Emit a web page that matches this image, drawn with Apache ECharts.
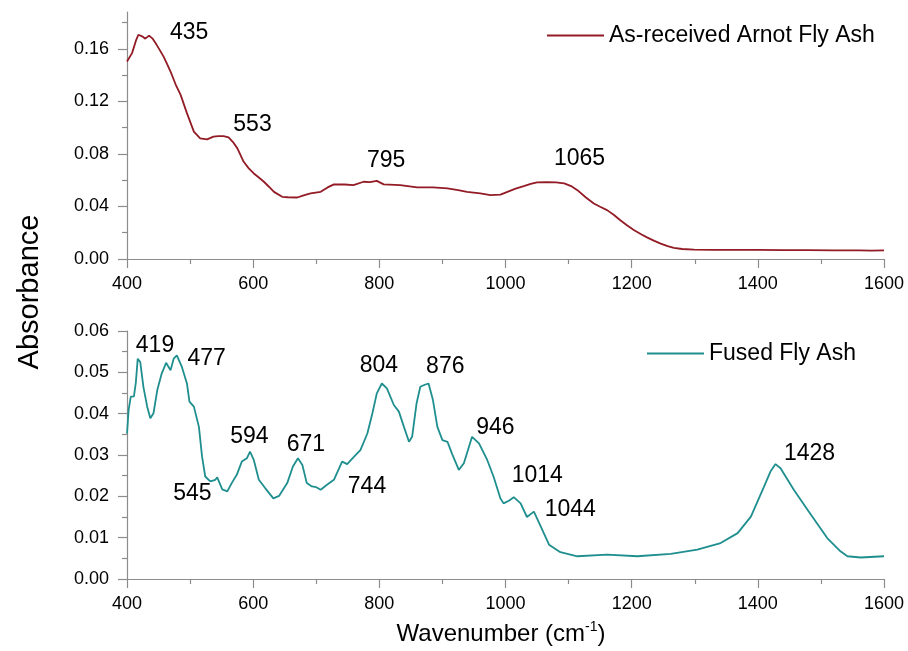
<!DOCTYPE html>
<html>
<head>
<meta charset="utf-8">
<script src="https://cdn.jsdelivr.net/npm/echarts@6/dist/echarts.min.js"></script>
<style>
  html, body { margin: 0; padding: 0; background: #fff; }
  #chart { width: 908px; height: 651px; }
</style>
</head>
<body>
<div id="chart"></div>
<script>
// FTIR absorbance spectra: as-received fly ash (top) and fused fly ash (bottom)
const topWavenumber = [400, 408, 414, 418, 424, 429, 435, 441, 447, 452, 458, 464, 469, 477, 485, 495, 506, 516, 527, 537, 545, 553, 561, 568, 575, 585, 593, 601, 609, 617, 625, 633, 646, 655, 670, 680, 691, 707, 718, 728, 745, 759, 775, 785, 796, 807, 833, 860, 885, 908, 925, 939, 960, 976, 992, 1003, 1016, 1029, 1040, 1050, 1065, 1080, 1093, 1104, 1114, 1127, 1140, 1150, 1161, 1172, 1182, 1193, 1204, 1215, 1225, 1236, 1246, 1257, 1267, 1280, 1299, 1330, 1370, 1400, 1440, 1480, 1520, 1560, 1580, 1600];
const topAbsorbance = [0.1503, 0.1567, 0.166, 0.1707, 0.1695, 0.1677, 0.1700, 0.1675, 0.163, 0.159, 0.154, 0.148, 0.1427, 0.133, 0.1249, 0.111, 0.0969, 0.0918, 0.0911, 0.0931, 0.0936, 0.0936, 0.0926, 0.089, 0.0842, 0.074, 0.069, 0.0651, 0.062, 0.0588, 0.055, 0.0511, 0.0473, 0.0470, 0.0468, 0.0485, 0.0499, 0.0511, 0.0545, 0.0568, 0.0567, 0.0562, 0.0588, 0.0585, 0.0595, 0.0568, 0.0562, 0.0545, 0.0545, 0.0537, 0.0525, 0.0511, 0.0500, 0.0486, 0.0490, 0.0511, 0.0535, 0.0555, 0.0572, 0.0583, 0.0585, 0.0583, 0.0575, 0.0555, 0.0524, 0.0470, 0.0423, 0.0398, 0.0372, 0.0335, 0.0295, 0.0255, 0.0219, 0.0188, 0.0163, 0.0138, 0.0117, 0.0098, 0.0084, 0.0076, 0.0072, 0.0070, 0.0069, 0.0070, 0.0068, 0.0067, 0.0066, 0.0066, 0.0064, 0.0066];

const bottomWavenumber = [400, 402.6, 406, 411, 414, 417, 421, 426, 432, 437, 442, 448, 455, 462, 469, 474, 479, 487, 495, 499, 506, 514, 519, 524, 532, 540, 543, 551, 559, 566, 574, 582, 590, 595, 601, 609, 619, 632, 641, 654, 663, 671, 678, 685, 693, 700, 707, 717, 728, 741, 749, 760, 770, 781, 789, 796, 804, 812, 823, 831, 839, 847, 852, 859, 865, 872, 878, 885, 892, 900, 908, 915, 926, 934, 947, 958, 971, 981, 992, 997, 1006, 1013, 1024, 1034, 1045, 1056, 1069, 1087, 1114, 1161, 1209, 1262, 1304, 1341, 1368, 1389, 1410, 1420, 1428, 1436, 1457, 1479, 1510, 1531, 1542, 1563, 1600];
const bottomAbsorbance = [0.0352, 0.0409, 0.0441, 0.0442, 0.0475, 0.0533, 0.0525, 0.0465, 0.0417, 0.0389, 0.0401, 0.0457, 0.0497, 0.0523, 0.0505, 0.0533, 0.0541, 0.0513, 0.0473, 0.0429, 0.0417, 0.0368, 0.0296, 0.0248, 0.0236, 0.0240, 0.0246, 0.0217, 0.0212, 0.0232, 0.0252, 0.0284, 0.0292, 0.0308, 0.0288, 0.0240, 0.0220, 0.0195, 0.0201, 0.0232, 0.0272, 0.0292, 0.0276, 0.0232, 0.0224, 0.0222, 0.0216, 0.0228, 0.0240, 0.0284, 0.0278, 0.0296, 0.0312, 0.0352, 0.0401, 0.0449, 0.0473, 0.0461, 0.0421, 0.0405, 0.0368, 0.0332, 0.0344, 0.0425, 0.0465, 0.0470, 0.0473, 0.0433, 0.0368, 0.0336, 0.0332, 0.0304, 0.0264, 0.0280, 0.0344, 0.0328, 0.0288, 0.0248, 0.0195, 0.0183, 0.0190, 0.0198, 0.0183, 0.0150, 0.0163, 0.0127, 0.0083, 0.0065, 0.0055, 0.0059, 0.0055, 0.0061, 0.0071, 0.0087, 0.0111, 0.0151, 0.0224, 0.0260, 0.0278, 0.0268, 0.0216, 0.0167, 0.0099, 0.0067, 0.0055, 0.0052, 0.0055];

// Annotated band positions (cm-1)
const topPeaks = [435, 553, 795, 1065];
const bottomPeaks = [419, 477, 545, 594, 671, 744, 804, 876, 946, 1014, 1044, 1428];

// Axis ticks
const xTicks = [400, 600, 800, 1000, 1200, 1400, 1600];
const topYTicks = [0, 0.04, 0.08, 0.12, 0.16];
const topYMinorTicks = [0.02, 0.06, 0.10, 0.14, 0.18];
const bottomYTicks = [0, 0.01, 0.02, 0.03, 0.04, 0.05, 0.06];

const topName = 'As-received Arnot Fly Ash';
const bottomName = 'Fused Fly Ash';

// Pixel offsets of each band label from its point on the curve
const topLabelOffsets = [[40, -3], [29, -11], [10, -20], [33, -23]];
const bottomLabelOffsets = [[16, -15], [31, 2], [-26, 13], [0, -16], [8, -14], [23, 24], [-3, -18], [18, -17], [24, -11], [23, -22], [37, -2], [34, -10]];

const FONT = '"Liberation Sans", Arial, sans-serif';
const AXIS_COLOR = '#8c8c8c';
const TEXT_COLOR = '#000';
const RED = '#921b26';
const TEAL = '#1f8e8e';

function zip(xs, ys) { return xs.map((x, i) => [x, ys[i]]); }

// Linear interpolation of a spectrum at a given wavenumber
function valueAt(xs, ys, x) {
  for (let i = 0; i < xs.length - 1; i++) {
    if (x >= xs[i] && x <= xs[i + 1]) {
      const t = (x - xs[i]) / (xs[i + 1] - xs[i]);
      return ys[i] + t * (ys[i + 1] - ys[i]);
    }
  }
  return ys[ys.length - 1];
}

function peakLabels(peaks, xs, ys, offsets) {
  return peaks.map((p, i) => ({
    value: [p, valueAt(xs, ys, p)],
    label: { offset: offsets[i] }
  }));
}

function xAxis(gridIndex) {
  return {
    type: 'value', gridIndex, min: xTicks[0], max: xTicks[xTicks.length - 1], interval: 200,
    axisLine: { lineStyle: { color: AXIS_COLOR, width: 1.2 } },
    axisTick: { length: 9, lineStyle: { color: AXIS_COLOR, width: 1.2 } },
    minorTick: { show: true, splitNumber: 2, length: 5, lineStyle: { color: AXIS_COLOR, width: 1.2 } },
    splitLine: { show: false },
    axisLabel: { color: TEXT_COLOR, fontSize: 18, fontFamily: FONT, margin: 16, formatter: v => String(v) }
  };
}

const bandLabel = {
  show: true, position: 'inside', fontSize: 23, fontFamily: FONT, color: TEXT_COLOR,
  opacity: 1, textBorderWidth: 0, formatter: p => String(p.value[0])
};

const chart = echarts.init(document.getElementById('chart'), null, { renderer: 'canvas' });

chart.setOption({
  animation: false,
  backgroundColor: '#fff',
  grid: [
    { left: 127, top: 12, width: 757, height: 247 },
    { left: 127, top: 331, width: 757, height: 248 }
  ],
  xAxis: [xAxis(0), xAxis(1)],
  yAxis: [
    {
      type: 'value', gridIndex: 0, min: 0, max: 0.188, position: 'left',
      axisLine: { show: true, lineStyle: { color: AXIS_COLOR, width: 1.2 } },
      axisTick: { show: true, length: 9, customValues: topYTicks, lineStyle: { color: AXIS_COLOR, width: 1.2 } },
      splitLine: { show: false },
      axisLabel: { customValues: topYTicks, color: TEXT_COLOR, fontSize: 18, fontFamily: FONT, margin: 18,
        formatter: v => v.toFixed(2) }
    },
    {
      type: 'value', gridIndex: 0, min: 0, max: 0.188, position: 'left', offset: 0,
      axisLine: { show: false },
      axisTick: { show: true, length: 5, customValues: topYMinorTicks, lineStyle: { color: AXIS_COLOR, width: 1.2 } },
      splitLine: { show: false },
      axisLabel: { show: false }
    },
    {
      type: 'value', gridIndex: 1, min: bottomYTicks[0], max: bottomYTicks[bottomYTicks.length - 1], interval: 0.01,
      axisLine: { show: true, lineStyle: { color: AXIS_COLOR, width: 1.2 } },
      axisTick: { show: true, length: 9, lineStyle: { color: AXIS_COLOR, width: 1.2 } },
      minorTick: { show: true, splitNumber: 2, length: 5, lineStyle: { color: AXIS_COLOR, width: 1.2 } },
      splitLine: { show: false },
      axisLabel: { color: TEXT_COLOR, fontSize: 18, fontFamily: FONT, margin: 18,
        formatter: v => v.toFixed(2) }
    }
  ],
  legend: [
    {
      data: [topName], left: 547, top: 24, padding: 0,
      icon: 'rect', itemWidth: 57, itemHeight: 2,
      textStyle: { fontSize: 23, fontFamily: FONT, color: TEXT_COLOR }
    },
    {
      data: [bottomName], left: 647, top: 342, padding: 0,
      icon: 'rect', itemWidth: 57, itemHeight: 2,
      textStyle: { fontSize: 23, fontFamily: FONT, color: TEXT_COLOR }
    }
  ],
  graphic: [
    {
      type: 'text', x: 30, y: 292, rotation: Math.PI / 2,
      style: { text: 'Absorbance', fontSize: 29, fontFamily: FONT, fill: TEXT_COLOR, align: 'center', verticalAlign: 'middle' }
    },
    {
      type: 'text', x: 501, y: 634,
      style: {
        text: '{a|Wavenumber (cm}{s|-1}{a|)}',
        align: 'center', verticalAlign: 'middle', fill: TEXT_COLOR,
        rich: {
          a: { fontSize: 24, fontFamily: FONT, fill: TEXT_COLOR, lineHeight: 28 },
          s: { fontSize: 14, fontFamily: FONT, fill: TEXT_COLOR, lineHeight: 28, verticalAlign: 'top' }
        }
      }
    }
  ],
  series: [
    {
      name: topName, type: 'line', xAxisIndex: 0, yAxisIndex: 0,
      data: zip(topWavenumber, topAbsorbance),
      showSymbol: false, lineStyle: { color: RED, width: 1.8 }, itemStyle: { color: RED }
    },
    {
      name: bottomName, type: 'line', xAxisIndex: 1, yAxisIndex: 2,
      data: zip(bottomWavenumber, bottomAbsorbance),
      showSymbol: false, lineStyle: { color: TEAL, width: 1.8 }, itemStyle: { color: TEAL }
    },
    {
      name: 'topBands', type: 'scatter', xAxisIndex: 0, yAxisIndex: 0, silent: true,
      symbolSize: 0, itemStyle: { color: '#fff', opacity: 1 },
      data: peakLabels(topPeaks, topWavenumber, topAbsorbance, topLabelOffsets),
      label: bandLabel
    },
    {
      name: 'bottomBands', type: 'scatter', xAxisIndex: 1, yAxisIndex: 2, silent: true,
      symbolSize: 0, itemStyle: { color: '#fff', opacity: 1 },
      data: peakLabels(bottomPeaks, bottomWavenumber, bottomAbsorbance, bottomLabelOffsets),
      label: bandLabel
    }
  ]
});
</script>
</body>
</html>
